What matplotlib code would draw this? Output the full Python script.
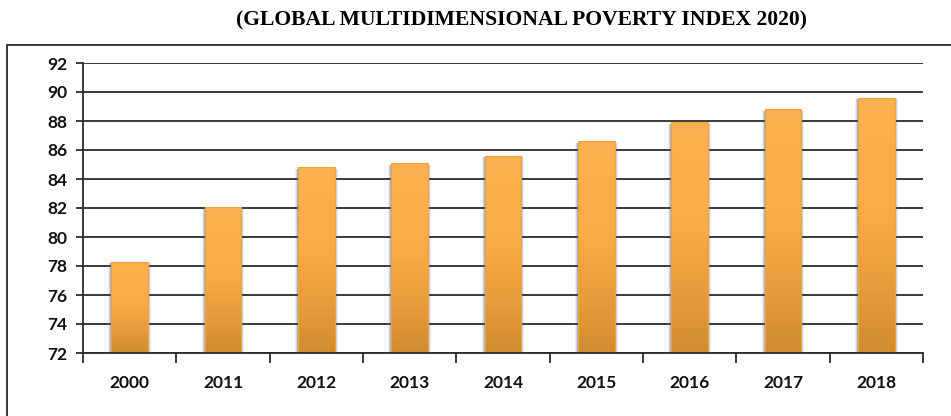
import numpy as np
import matplotlib
matplotlib.use("Agg")
import matplotlib.pyplot as plt
from matplotlib.patches import Rectangle
from matplotlib.colors import LinearSegmentedColormap

years = ["2000", "2011", "2012", "2013", "2014", "2015", "2016", "2017", "2018"]
values = [78.3, 82.1, 84.8, 85.1, 85.6, 86.6, 87.9, 88.8, 89.6]
y_ticks = [72, 74, 76, 78, 80, 82, 84, 86, 88, 90, 92]
title = "(GLOBAL MULTIDIMENSIONAL POVERTY INDEX 2020)"

W, H = 951, 416
fig = plt.figure(figsize=(W / 100, H / 100), dpi=100)

# outer chart frame (runs off the right and bottom edges)
fig.patches.append(Rectangle((6.5 / W, -0.05), 1.05, 1 - 45 / H + 0.05,
                             transform=fig.transFigure, fill=False,
                             edgecolor="#3a3a3a", linewidth=1.4, zorder=0))

fig.text(521 / W, 1 - 20 / H, title, ha="center", va="center",
         fontfamily="Liberation Serif", fontweight="bold", fontsize=15.6)

ax = fig.add_axes([83 / W, 1 - 353 / H, (923 - 83) / W, (353 - 63) / H])
ax.set_facecolor("none")
ax.set_xlim(-0.5, len(years) - 0.5)
ax.set_ylim(72, 92)

for v in y_ticks:
    ax.axhline(v, color="#2b2b2b", linewidth=1.3, zorder=1)

cmap = LinearSegmentedColormap.from_list(
    "bar", [(0.0, "#d28c2e"), (0.25, "#e59c3a"), (0.55, "#f9ac46"),
            (1.0, "#fcb150")])
grad = np.linspace(0, 1, 256).reshape(-1, 1)

bw = 0.395
for i, v in enumerate(values):
    x0 = i - bw / 2
    # thin bluish shadow along the bar sides
    for k, a in [(0.03, 0.10), (0.02, 0.16), (0.011, 0.28)]:
        ax.add_patch(Rectangle((x0 - k, 72), bw + 2 * k, v - 72 - 0.1,
                               facecolor="#3d5a86", edgecolor="none",
                               alpha=a, zorder=2))
    bar = Rectangle((x0, 72), bw, v - 72, facecolor="none",
                    edgecolor="#f2a23a", linewidth=0.8, zorder=4)
    ax.add_patch(bar)
    im = ax.imshow(grad, cmap=cmap, origin="lower", aspect="auto",
                   extent=(x0, x0 + bw, 72, v), zorder=3)
    im.set_clip_path(bar)

ax.set_xlim(-0.5, len(years) - 0.5)
ax.set_ylim(72, 92)

for s in ["top", "right"]:
    ax.spines[s].set_visible(False)
ax.spines["left"].set_color("#2b2b2b")
ax.spines["bottom"].set_color("#2b2b2b")
ax.spines["left"].set_linewidth(1.3)
ax.spines["bottom"].set_linewidth(1.3)
ax.spines["bottom"].set_zorder(5)

ax.set_yticks(y_ticks)
ax.set_yticklabels([str(t) for t in y_ticks])
ax.set_xticks(np.arange(len(years)))
ax.set_xticklabels(years)
ax.set_xticks(np.arange(-0.5, len(years)), minor=True)
ax.tick_params(axis="x", which="major", length=0, pad=16)
ax.tick_params(axis="x", which="minor", length=7, width=1.3, color="#2b2b2b")
ax.tick_params(axis="y", length=5, width=1.3, color="#2b2b2b", pad=6)
for lab in ax.get_xticklabels() + ax.get_yticklabels():
    lab.set_fontfamily("Lato")
    lab.set_fontweight("bold")
    lab.set_fontsize(12.5)
    lab.set_color("#111111")

fig.savefig("out.png", dpi=100)
